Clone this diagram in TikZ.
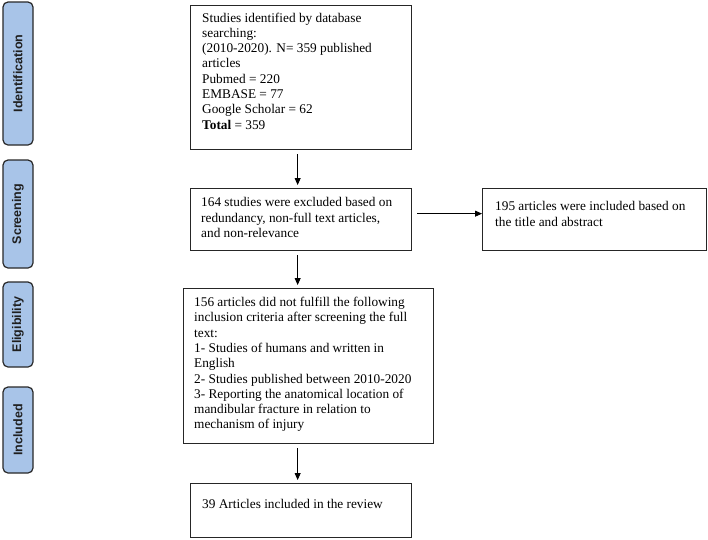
\documentclass[tikz,border=0pt]{standalone}
\usepackage{fontspec}
\setmainfont{Liberation Serif}
\newfontfamily\labfont{Liberation Sans}
\usetikzlibrary{arrows.meta,calc}
\definecolor{phase}{RGB}{168,196,232}
\definecolor{phaseedge}{RGB}{40,40,40}
\begin{document}
\begin{tikzpicture}[x=1pt,y=-1pt,
  phasebox/.style={draw=phaseedge, line width=1.2pt, fill=phase, rounded corners=5pt, inner sep=0pt, rotate=90, minimum height=30pt, text=black!88, font=\labfont\bfseries\fontsize{12.5}{14}\selectfont},
  flowbox/.style={draw=black!85, line width=1.3pt, inner sep=0pt, anchor=north west},
  flowtext/.style={anchor=north west, inner sep=0pt, align=left, font=\fontsize{13.3}{15.3}\selectfont},
  flowarrow/.style={line width=0.8pt, -{Triangle[length=7pt,width=6pt]}, shorten <=4pt, shorten >=3pt}]
\useasboundingbox (0,0) rectangle (708,539);

% phase labels
\node[phasebox, minimum width=143pt] (pid) at (18,73.5) {Identification};
\node[phasebox, minimum width=108pt] (psc) at (18,214) {Screening};
\node[phasebox, minimum width=85pt] (pel) at (18,324.5) {Eligibility};
\node[phasebox, minimum width=86pt] (pin) at (18,430) {Included};

% boxes
\node[flowbox, minimum width=221pt, minimum height=144pt] (b1) at (190,5) {};
\node[flowbox, minimum width=221pt, minimum height=62pt] (b2) at (190,188) {};
\node[flowbox, minimum width=250pt, minimum height=155pt] (b3) at (183,288) {};
\node[flowbox, minimum width=221pt, minimum height=54pt] (b4) at (190,483) {};
\node[flowbox, minimum width=224pt, minimum height=62pt] (r) at (482,188) {};

% texts
\node[flowtext] (t1) at (202,12.5) {Studies identified by database\\searching:\\(2010-2020). N= 359 published\\articles\\Pubmed = 220\\EMBASE = 77\\Google Scholar = 62\\\textbf{Total} = 359};
\node[flowtext] (t2) at (201,197.5) {164 studies were excluded based on\\redundancy, non-full text articles,\\and non-relevance};
\node[flowtext] (t3) at (194,297) {156 articles did not fulfill the following\\inclusion criteria after screening the full\\text:\\1- Studies of humans and written in\\English\\2- Studies published between 2010-2020\\3- Reporting the anatomical location of\\mandibular fracture in relation to\\mechanism of injury};
\node[flowtext] (t4) at (202,499.5) {39 Articles included in the review};
\node[flowtext] (tr) at (495,201.5) {195 articles were included based on\\the title and abstract};

% arrows
\draw[flowarrow] ([xshift=-3.5pt]b1.south) -- ([xshift=-3.5pt]b2.north);
\draw[flowarrow] ([xshift=-3.5pt]b2.south) -- ([xshift=-3.5pt]b2.south |- b3.north);
\draw[flowarrow] ([xshift=-3.5pt]b4.north |- b3.south) -- ([xshift=-3.5pt]b4.north);
\draw[flowarrow, shorten <=5pt, shorten >=0pt] ([yshift=6pt]b2.east) -- ([yshift=6pt]b2.east -| r.west);
\end{tikzpicture}
\end{document}
